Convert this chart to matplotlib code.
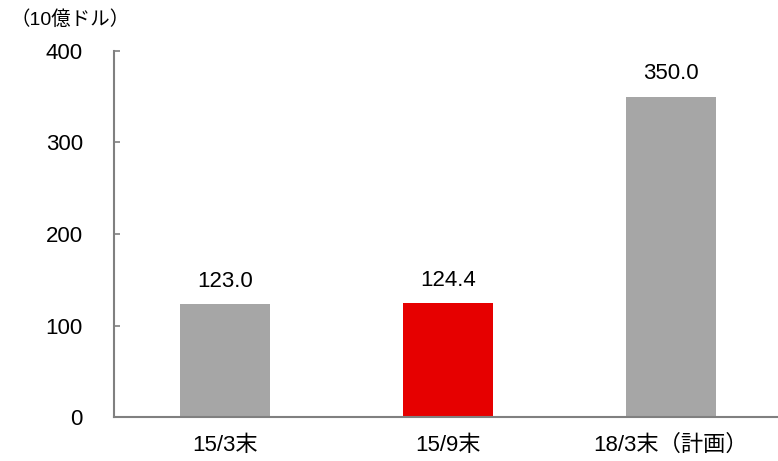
import matplotlib
matplotlib.use("Agg")
import matplotlib.pyplot as plt

categories = ["15/3末", "15/9末", "18/3末（計画）"]
values = [123.0, 124.4, 350.0]
colors = ["#A6A6A6", "#E60000", "#A6A6A6"]
yticks = [0, 100, 200, 300, 400]
unit_label = "（10億ドル）"

plt.rcParams['font.family'] = ['Liberation Sans', 'Noto Sans CJK JP', 'DejaVu Sans']

W, H = 778, 461
fig = plt.figure(figsize=(W / 100, H / 100), dpi=100)
left = 113.5
slot = 223
ax = fig.add_axes([left / W, (H - 417) / H, (W - left) / W, (417 - 51) / H])

x = range(len(categories))
ax.bar(x, values, width=90 / slot, color=colors, zorder=2)
for xi, v in zip(x, values):
    ax.annotate(f"{v:.1f}", (xi, v), xytext=(0, 9), textcoords="offset points",
                ha="center", va="bottom", fontsize=16, color="black")

ax.set_xlim(-0.5, -0.5 + (W - left) / slot)
ax.set_ylim(0, 400)
ax.set_yticks(yticks)
ax.set_yticklabels([str(t) for t in yticks], fontsize=16)
ax.set_xticks(list(x))
ax.set_xticklabels(categories, fontsize=16)

for s in ["top", "right"]:
    ax.spines[s].set_visible(False)
for s in ["left", "bottom"]:
    ax.spines[s].set_color("#808080")
    ax.spines[s].set_linewidth(1.5)
ax.tick_params(axis="y", direction="in", length=4, width=1.2, color="#808080", pad=22)
ax.tick_params(axis="x", length=0, pad=13)

fig.text(10 / W, 1 - 20 / H, unit_label, fontsize=14, ha="left", va="center")

fig.savefig("out.png", dpi=100)
